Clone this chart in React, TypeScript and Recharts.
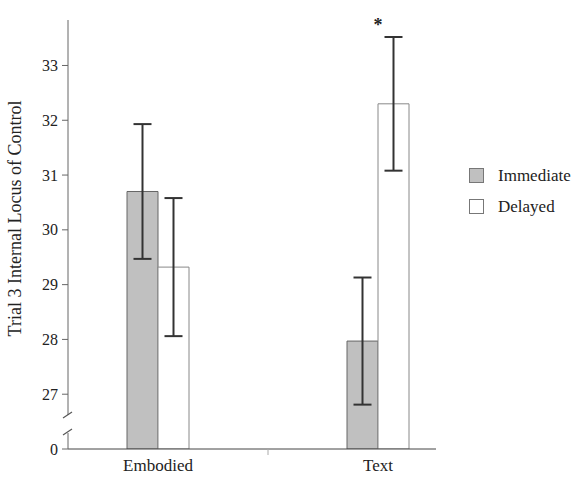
import React from 'react';
import {
  BarChart,
  Bar,
  XAxis,
  YAxis,
  ErrorBar,
  Legend,
  ReferenceDot,
} from 'recharts';

const categories = ['Embodied', '', 'Text'];
const immediate = [30.7, null, 27.97];
const immediateErr = [1.23, null, 1.16];
const delayed = [29.32, null, 32.3];
const delayedErr = [1.26, null, 1.22];
const significance = ['', '', '*'];
const yTicks = [0, 27, 28, 29, 30, 31, 32, 33];
const seriesNames = ['Immediate', 'Delayed'];
const seriesFills = ['#c0c0c0', '#ffffff'];

// axis is broken between 0 and 27: values above the break are drawn as v - 26
const BREAK_BASE = 26;
const toAxis = (v: number | null) => (v == null ? null : v === 0 ? 0 : v - BREAK_BASE);

const data = categories.map((cat, i) => ({
  cat,
  immediate: toAxis(immediate[i]),
  immErr: immediateErr[i],
  delayed: toAxis(delayed[i]),
  delErr: delayedErr[i],
}));

const FONT = '"Liberation Serif", "DejaVu Serif", serif';
const TEXT = '#222';

function YTick(props: any) {
  const { x, y, payload } = props;
  const v = payload.value as number;
  const label = v === 0 ? '0' : String(v + BREAK_BASE);
  const ax = x + 10;
  return (
    <g>
      <text x={x} y={y} dy="0.35em" textAnchor="end" fontFamily={FONT} fontSize={16} fill={TEXT}>
        {label}
      </text>
      {v === 0 && (
        <g stroke="#555" strokeWidth={1.2} fill="none">
          <rect x={ax - 2} y={y - 34} width={4} height={18} fill="#fff" stroke="none" />
          <line x1={ax - 5} y1={y - 31} x2={ax + 4} y2={y - 37} />
          <line x1={ax - 5} y1={y - 14} x2={ax + 4} y2={y - 20} />
        </g>
      )}
    </g>
  );
}

function XTick(props: any) {
  const { x, y, payload } = props;
  if (!payload.value) {
    return <line x1={x} y1={y} x2={x} y2={y + 6} stroke="#aaa" />;
  }
  return (
    <text x={x} y={y + 22} textAnchor="middle" fontFamily={FONT} fontSize={17} fill={TEXT}>
      {payload.value}
    </text>
  );
}

function YLabel(props: any) {
  const { viewBox } = props;
  const cx = viewBox.x + 15;
  const cy = viewBox.y + viewBox.height / 2 - 16;
  return (
    <text
      x={cx}
      y={cy}
      transform={`rotate(-90 ${cx} ${cy})`}
      textAnchor="middle"
      dominantBaseline="central"
      fontFamily={FONT}
      fontSize={18}
      fill={TEXT}
    >
      Trial 3 Internal Locus of Control
    </text>
  );
}

function LegendBox() {
  return (
    <div style={{ paddingLeft: 33, fontFamily: FONT, fontSize: 17, color: TEXT }}>
      {seriesNames.map((name, i) => (
        <div key={name} style={{ display: 'flex', alignItems: 'center', height: 31, whiteSpace: 'nowrap' }}>
          <span
            style={{
              display: 'inline-block',
              flexShrink: 0,
              boxSizing: 'border-box',
              width: 15,
              height: 15,
              background: seriesFills[i],
              border: '1px solid #777',
              marginRight: 14,
            }}
          />
          {name}
        </div>
      ))}
    </div>
  );
}

export default function App() {
  return (
    <div style={{ position: 'absolute', left: 0, top: 0, width: 576, height: 480, background: '#fff' }}>
      <BarChart
        width={576}
        height={480}
        data={data}
        margin={{ top: 20, right: 30, left: 0, bottom: 0 }}
        barGap={0}
        barSize={31}
      >
        <XAxis
          dataKey="cat"
          padding={{ left: 35, right: 3 }}
          height={31}
          tickLine={false}
          tickSize={0}
          tickMargin={0}
          tick={<XTick />}
          stroke="#444"
          interval={0}
        />
        <YAxis
          width={68}
          type="number"
          domain={[0, 7.83]}
          allowDataOverflow
          ticks={yTicks.map((t) => toAxis(t) as number)}
          tickSize={6}
          tickMargin={4}
          tick={<YTick />}
          stroke="#666"
          label={{ content: <YLabel /> }}
        />
        <Legend
          layout="vertical"
          align="right"
          verticalAlign="top"
          width={110}
          wrapperStyle={{ top: 160 }}
          content={<LegendBox />}
        />
        <Bar dataKey="immediate" name={seriesNames[0]} fill={seriesFills[0]} stroke="#666" isAnimationActive={false}>
          <ErrorBar dataKey="immErr" width={9} strokeWidth={2} stroke="#333" direction="y" isAnimationActive={false} />
        </Bar>
        <Bar dataKey="delayed" name={seriesNames[1]} fill={seriesFills[1]} stroke="#888" isAnimationActive={false}>
          <ErrorBar dataKey="delErr" width={9} strokeWidth={2} stroke="#333" direction="y" isAnimationActive={false} />
        </Bar>
        {categories.map((cat, i) =>
          significance[i] ? (
            <ReferenceDot
              key={cat}
              x={cat}
              y={toAxis((delayed[i] as number) + (delayedErr[i] as number) + 0.3) as number}
              ifOverflow="visible"
              shape={(p: any) => (
                <text x={p.cx} y={p.cy} dy="0.6em" textAnchor="middle" fontFamily={FONT} fontSize={18} fontWeight="bold" fill={TEXT}>
                  {significance[i]}
                </text>
              )}
            />
          ) : null
        )}
      </BarChart>
    </div>
  );
}
